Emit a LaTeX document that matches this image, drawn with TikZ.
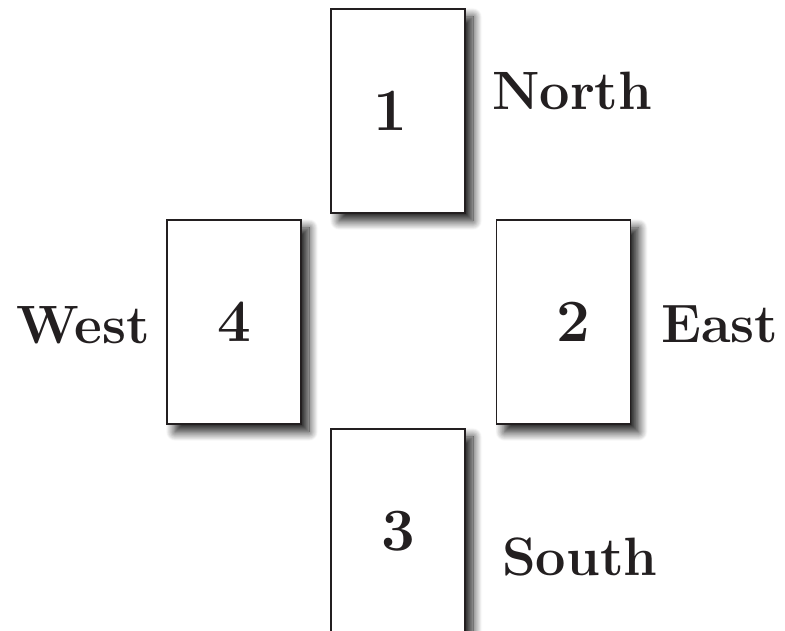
\documentclass[tikz,border=0pt]{standalone}
\usepackage{tikz}
\usetikzlibrary{positioning,shadows.blur}
\definecolor{cardline}{RGB}{35,31,32}

\begin{document}
\begin{tikzpicture}[x=1pt,y=1pt,
  card/.style={draw=cardline,line width=1.8pt,fill=white,
    minimum width=134pt,minimum height=204pt,inner sep=0pt,
    font=\bfseries\fontsize{60}{64}\selectfont,text=cardline,
    blur shadow={shadow xshift=8pt,shadow yshift=-8pt,shadow blur radius=9pt,
      shadow blur steps=14,shadow opacity=90}},
  side/.style={inner sep=0pt,font=\bfseries\fontsize{54}{58}\selectfont,text=cardline}]
\useasboundingbox (0,0) rectangle (785,631);
% the four cards of the cross
\node[card] (c1) at (398,520) {\hspace*{-16pt}1};
\node[card] (c2) at (563.5,309) {\hspace*{20pt}2};
\node[card] (c3) at (398,100) {3};
\node[card] (c4) at (234,309) {4};
% compass words
\node[side,anchor=west] (north) at ([xshift=26pt,yshift=20pt]c1.east) {North};
\node[side,anchor=west] (east) at ([xshift=30pt,yshift=-2pt]c2.east) {East};
\node[side,anchor=west] (south) at ([xshift=36pt,yshift=-26pt]c3.east) {South};
\node[side,anchor=east] (west) at ([xshift=-16pt,yshift=-3pt]c4.west) {West};
\end{tikzpicture}
\end{document}
